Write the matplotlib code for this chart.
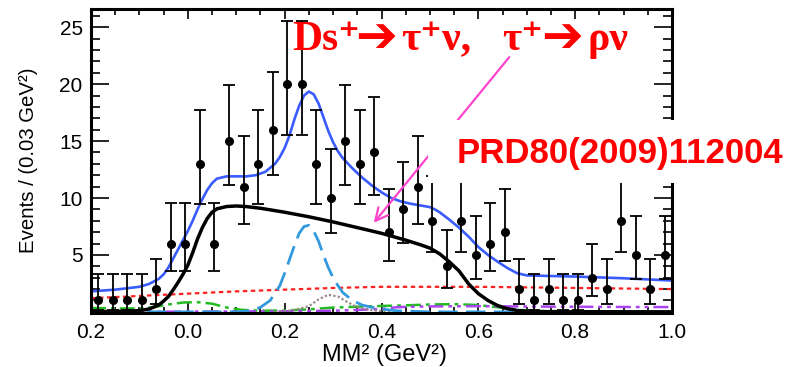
import numpy as np
import matplotlib
matplotlib.use('Agg')
import matplotlib.pyplot as plt
from matplotlib.patches import Rectangle
from matplotlib.ticker import MultipleLocator, FixedLocator

# data: events per 0.03 GeV^2 bin, MM^2 from -0.2 to 1.0
mm2_lo = -0.2
bin_width = 0.03
counts = [1, 1, 1, 1, 2, 6, 6, 13, 6, 15, 11, 13, 16, 20, 20, 13, 10, 15, 13, 14,
          7, 9, 11, 8, 4, 8, 5, 6, 7, 2, 1, 2, 1, 1, 3, 2, 8, 5, 2, 5]

# fit components
total_x = [-0.2, -0.15, -0.1, -0.08, -0.06, -0.05, -0.04, -0.03, -0.02, -0.01, 0.0, 0.01, 0.02,
           0.03, 0.04, 0.05, 0.06, 0.08, 0.1, 0.12, 0.14, 0.16, 0.18, 0.19, 0.2, 0.21, 0.22,
           0.23, 0.24, 0.25, 0.26, 0.27, 0.28, 0.29, 0.30, 0.31, 0.32, 0.34, 0.36, 0.38, 0.40,
           0.42, 0.44, 0.46, 0.48, 0.50, 0.51, 0.52, 0.54, 0.56, 0.58, 0.60, 0.62, 0.64, 0.66,
           0.68, 0.70, 0.75, 0.8, 0.9, 1.0]
total_y = [1.8, 1.95, 2.2, 2.45, 2.9, 3.3, 3.9, 4.7, 5.5, 6.3, 7.1, 8.0, 9.0,
           9.9, 10.7, 11.3, 11.7, 11.9, 11.9, 11.9, 12.0, 12.3, 13.0, 13.6, 14.4, 15.5, 16.9,
           18.1, 19.0, 19.35, 19.1, 18.3, 17.1, 15.9, 14.9, 14.1, 13.5, 12.6, 11.8, 11.1, 10.5,
           10.0, 9.7, 9.5, 9.35, 9.2, 9.0, 8.75, 8.1, 7.4, 6.6, 5.7, 5.0, 4.4, 3.85,
           3.4, 3.2, 3.15, 3.1, 2.95, 2.75]

rho_x = [-0.2, -0.15, -0.1, -0.08, -0.06, -0.05, -0.04, -0.03, -0.02, -0.01, 0.0, 0.01, 0.02,
         0.03, 0.04, 0.05, 0.06, 0.08, 0.1, 0.12, 0.15, 0.2, 0.25, 0.3, 0.35, 0.4, 0.45, 0.48,
         0.5, 0.52, 0.54, 0.56, 0.58, 0.6, 0.62, 0.64, 0.66, 0.68, 0.72, 1.0]
rho_y = [0.02, 0.03, 0.1, 0.25, 0.6, 0.95, 1.35, 1.95, 2.6, 3.3, 4.1, 5.2, 6.4,
         7.4, 8.2, 8.75, 9.05, 9.25, 9.3, 9.25, 9.1, 8.75, 8.35, 7.9, 7.4, 6.9, 6.3, 5.9,
         5.6, 5.1, 4.4, 3.6, 2.45, 1.6, 1.0, 0.55, 0.28, 0.12, 0.02, 0.0]

peak_x = [-0.2, 0.1, 0.13, 0.15, 0.17, 0.19, 0.2, 0.21, 0.22, 0.23, 0.24, 0.25, 0.26, 0.27,
          0.28, 0.29, 0.3, 0.31, 0.32, 0.34, 0.36, 0.38, 0.4, 0.43, 0.5, 1.0]
peak_y = [0.0, 0.0, 0.1, 0.4, 1.0, 2.3, 3.4, 4.6, 5.8, 6.9, 7.5, 7.6, 7.1, 6.2,
          5.0, 3.9, 3.0, 2.3, 1.7, 1.0, 0.6, 0.4, 0.25, 0.1, 0.0, 0.0]

bkg_x = [-0.2, -0.1, 0.0, 0.1, 0.2, 0.3, 0.4, 0.5, 0.6, 0.7, 0.8, 0.9, 1.0]
bkg_y = [1.2, 1.4, 1.6, 1.8, 1.95, 2.1, 2.2, 2.2, 2.2, 2.15, 2.1, 2.05, 2.0]

green_x = [-0.2, -0.15, -0.1, -0.07, -0.04, -0.01, 0.02, 0.05, 0.08, 0.11, 0.15, 0.2, 0.25,
           0.3, 0.35, 0.4, 0.45, 0.5, 0.55, 0.6, 0.65, 0.7, 0.75, 0.8, 1.0]
green_y = [0.35, 0.3, 0.3, 0.42, 0.65, 0.82, 0.85, 0.72, 0.38, 0.18, 0.1, 0.12, 0.22,
           0.38, 0.45, 0.52, 0.57, 0.65, 0.68, 0.6, 0.35, 0.12, 0.05, 0.02, 0.02]

purple_x = [-0.2, 0.0, 0.2, 0.3, 0.35, 0.4, 0.43, 0.45, 0.5, 0.6, 0.7, 0.8, 0.9, 1.0]
purple_y = [0.0, 0.02, 0.05, 0.1, 0.17, 0.25, 0.4, 0.44, 0.48, 0.5, 0.47, 0.45, 0.43, 0.42]

dot_x = [0.18, 0.22, 0.25, 0.27, 0.29, 0.31, 0.33, 0.35, 0.38, 0.42]
dot_y = [0.0, 0.15, 0.5, 1.1, 1.5, 1.35, 0.85, 0.4, 0.15, 0.0]

x_ticks = [-0.2, 0.0, 0.2, 0.4, 0.6, 0.8, 1.0]
x_ticklabels = ['0.2', '0.0', '0.2', '0.4', '0.6', '0.8', '1.0']
y_ticks = [5, 10, 15, 20, 25]

# title pieces and their left edges in pixels
title_parts = ['Ds⁺', '➔', 'τ⁺ν,', 'τ⁺', '➔', 'ρν']
title_left_px = [292, 355, 401, 502, 541, 588]

plt.rcParams['font.family'] = ['Liberation Sans', 'DejaVu Sans']

fig = plt.figure(figsize=(8, 3.67), dpi=100)
ax = fig.add_axes([91 / 800, 1 - 313 / 367, 581 / 800, 304 / 367])

centers = mm2_lo + bin_width * (np.arange(len(counts)) + 0.5)
n = np.array(counts, dtype=float)
# Gehrels approximation of Poisson 68% intervals
err_hi = 1 + np.sqrt(n + 0.75)
err_lo = n - n * (1 - 1 / (9 * n) - 1 / (3 * np.sqrt(n))) ** 3

ax.plot(bkg_x, bkg_y, color='#ff2020', lw=1.6, ls=(0, (2, 1.6)))
ax.plot(green_x, green_y, color='#22bb22', lw=1.8, ls=(0, (6, 2, 1.5, 2)))
ax.plot(purple_x, purple_y, color='#aa44ee', lw=1.8, ls=(0, (6, 2, 1.5, 2, 1.5, 2)))
ax.plot(dot_x, dot_y, color='#998888', lw=1.6, ls=(0, (1, 1)))
ax.plot(peak_x, peak_y, color='#3399dd', lw=2.0, ls=(0, (7, 3)))
ax.plot(rho_x, rho_y, color='black', lw=2.5)
ax.plot(total_x, total_y, color='#3a5cff', lw=1.9)
ax.errorbar(centers, counts, yerr=[err_lo, err_hi], fmt='o', color='black',
            ms=5.5, elinewidth=1.3, capsize=4.5, capthick=1.3)

ax.set_xlim(-0.2, 1.0)
ax.set_ylim(-0.1, 26.6)
ax.set_xticks(x_ticks)
ax.set_xticklabels(x_ticklabels)
ax.xaxis.set_minor_locator(MultipleLocator(0.05))
ax.yaxis.set_major_locator(FixedLocator(y_ticks))
ax.yaxis.set_minor_locator(MultipleLocator(1))
ax.tick_params(which='both', direction='in', top=True, right=True, labelsize=15, width=1.2)
ax.tick_params(axis='x', which='major', length=7, pad=7)
ax.tick_params(axis='x', which='minor', length=4.5)
ax.tick_params(axis='y', which='major', length=13, pad=6)
ax.tick_params(axis='y', which='minor', length=6.5)
for s in ax.spines.values():
    s.set_linewidth(2.2)

fig.text(29 / 800, 1 - 160 / 367, 'Events / (0.03 GeV²)', rotation=90,
         ha='center', va='center', fontsize=14.7)
fig.text(384 / 800, 1 - 355 / 367, 'MM² (GeV²)', ha='center', va='center', fontsize=17)

# magenta arrow and white box behind the reference label
ax.annotate('', xy=(372 / 800, 1 - 225 / 367), xytext=(511 / 800, 1 - 55 / 367),
            xycoords='figure fraction', textcoords='figure fraction',
            arrowprops=dict(arrowstyle='->,head_length=0.9,head_width=0.45',
                            color='#ff44cc', lw=1.6), zorder=4, annotation_clip=False)
fig.add_artist(Rectangle((428 / 800, 1 - 183 / 367), 372 / 800, 63 / 367,
                         transform=fig.transFigure, facecolor='white', edgecolor='none',
                         zorder=5))

# title built from pieces so the arrows can use a heavier glyph
for txt, left in zip(title_parts, title_left_px):
    if txt == '➔':
        fig.text(left / 800, 1 - 52 / 367, txt, color='#ff0000', fontsize=36,
                 family=['DejaVu Sans'], va='baseline', zorder=6)
    else:
        fig.text(left / 800, 1 - 50 / 367, txt, color='#ff0000', fontsize=30,
                 fontweight='bold', family=['Liberation Serif', 'DejaVu Serif'],
                 va='baseline', zorder=6)

fig.text(457 / 800, 1 - 163 / 367, 'PRD80(2009)112004', color='#ff0000', fontsize=25,
         fontweight='bold', va='baseline', zorder=6)

fig.savefig('out.png', dpi=100)
